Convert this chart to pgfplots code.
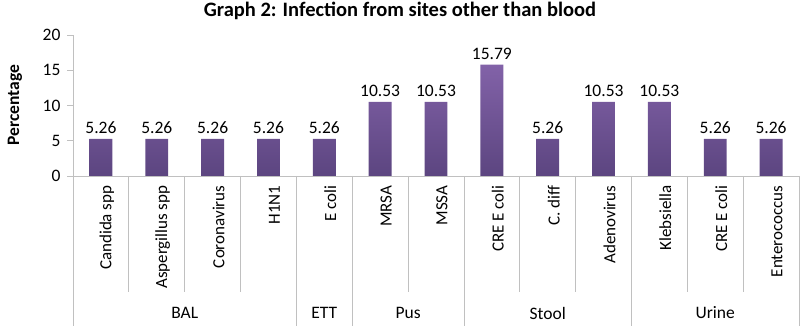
\documentclass[border=0pt]{standalone}
\usepackage{pgfplots}
\pgfplotsset{compat=1.18}
\usepackage{fontspec}
\setmainfont{Carlito}
\definecolor{barTop}{HTML}{8262A8}
\definecolor{barBot}{HTML}{5C4580}
\definecolor{axgray}{HTML}{C0C0C0}
\newcommand{\lbl}{\fontsize{17.5}{20}\selectfont}
\newcommand{\cat}{\fontsize{17}{20}\selectfont}
\begin{document}
\begin{tikzpicture}
\useasboundingbox (-73pt,-150pt) rectangle (727pt,176pt);
\begin{axis}[
  at={(0pt,0pt)}, anchor=south west,
  scale only axis, width=726pt, height=141pt,
  xmin=-0.5, xmax=12.5, ymin=0, ymax=20,
  ytick={0,5,10,15,20},
  xtick={0,...,12},
  xticklabels={Candida spp, Aspergillus spp, Coronavirus, H1N1, E coli, MRSA, MSSA, CRE E coli, C. diff, Adenovirus, Klebsiella, CRE E coli, Enterococcus},
  xticklabel style={rotate=90, anchor=east, yshift=-6pt, font=\cat},
  yticklabel style={font=\lbl, xshift=-3pt},
  x tick style={draw=none},
  axis x line*=bottom, axis y line*=left,
  axis line style={axgray, line width=0.8pt},
  y tick style={axgray, line width=0.8pt},
  tick align=outside, major tick length=6pt,
  /pgf/number format/assume math mode=true,
  nodes near coords,
  nodes near coords style={font=\lbl, black, yshift=1.5pt, /pgf/number format/fixed, /pgf/number format/precision=2, /pgf/number format/fixed zerofill},
  clip=false,
]
\addplot[ybar, bar width=0.41, draw=none, top color=barTop, bottom color=barBot] coordinates {
(0,5.26) (1,5.26) (2,5.26) (3,5.26) (4,5.26) (5,10.53) (6,10.53) (7,15.79) (8,5.26) (9,10.53) (10,10.53) (11,5.26) (12,5.26)};
% within-group separators
\draw[axgray, line width=0.8pt] (axis cs:0.5,0) -- ++(0pt,-116pt);
\draw[axgray, line width=0.8pt] (axis cs:1.5,0) -- ++(0pt,-116pt);
\draw[axgray, line width=0.8pt] (axis cs:2.5,0) -- ++(0pt,-116pt);
\draw[axgray, line width=0.8pt] (axis cs:5.5,0) -- ++(0pt,-116pt);
\draw[axgray, line width=0.8pt] (axis cs:7.5,0) -- ++(0pt,-116pt);
\draw[axgray, line width=0.8pt] (axis cs:8.5,0) -- ++(0pt,-116pt);
\draw[axgray, line width=0.8pt] (axis cs:10.5,0) -- ++(0pt,-116pt);
\draw[axgray, line width=0.8pt] (axis cs:11.5,0) -- ++(0pt,-116pt);
% group separators
\draw[axgray, line width=0.8pt] (axis cs:-0.5,0) -- ++(0pt,-150pt);
\draw[axgray, line width=0.8pt] (axis cs:3.5,0) -- ++(0pt,-150pt);
\draw[axgray, line width=0.8pt] (axis cs:4.5,0) -- ++(0pt,-150pt);
\draw[axgray, line width=0.8pt] (axis cs:6.5,0) -- ++(0pt,-150pt);
\draw[axgray, line width=0.8pt] (axis cs:9.5,0) -- ++(0pt,-150pt);
\draw[axgray, line width=0.8pt] (axis cs:12.5,0) -- ++(0pt,-150pt);
% group labels
\node[font=\lbl] at ([yshift=-137pt]axis cs:1.5,0) {BAL};
\node[font=\lbl] at ([yshift=-137pt]axis cs:4,0) {ETT};
\node[font=\lbl] at ([yshift=-137pt]axis cs:5.5,0) {Pus};
\node[font=\lbl] at ([yshift=-137pt]axis cs:8,0) {Stool};
\node[font=\lbl] at ([yshift=-137pt]axis cs:11,0) {Urine};
\end{axis}
\node[font=\bfseries\fontsize{20.5}{23}\selectfont] at (327pt,165pt) {Graph 2: Infection from sites other than blood};
\node[rotate=90, font=\bfseries\lbl] at (-58pt,71pt) {Percentage};
\end{tikzpicture}
\end{document}
